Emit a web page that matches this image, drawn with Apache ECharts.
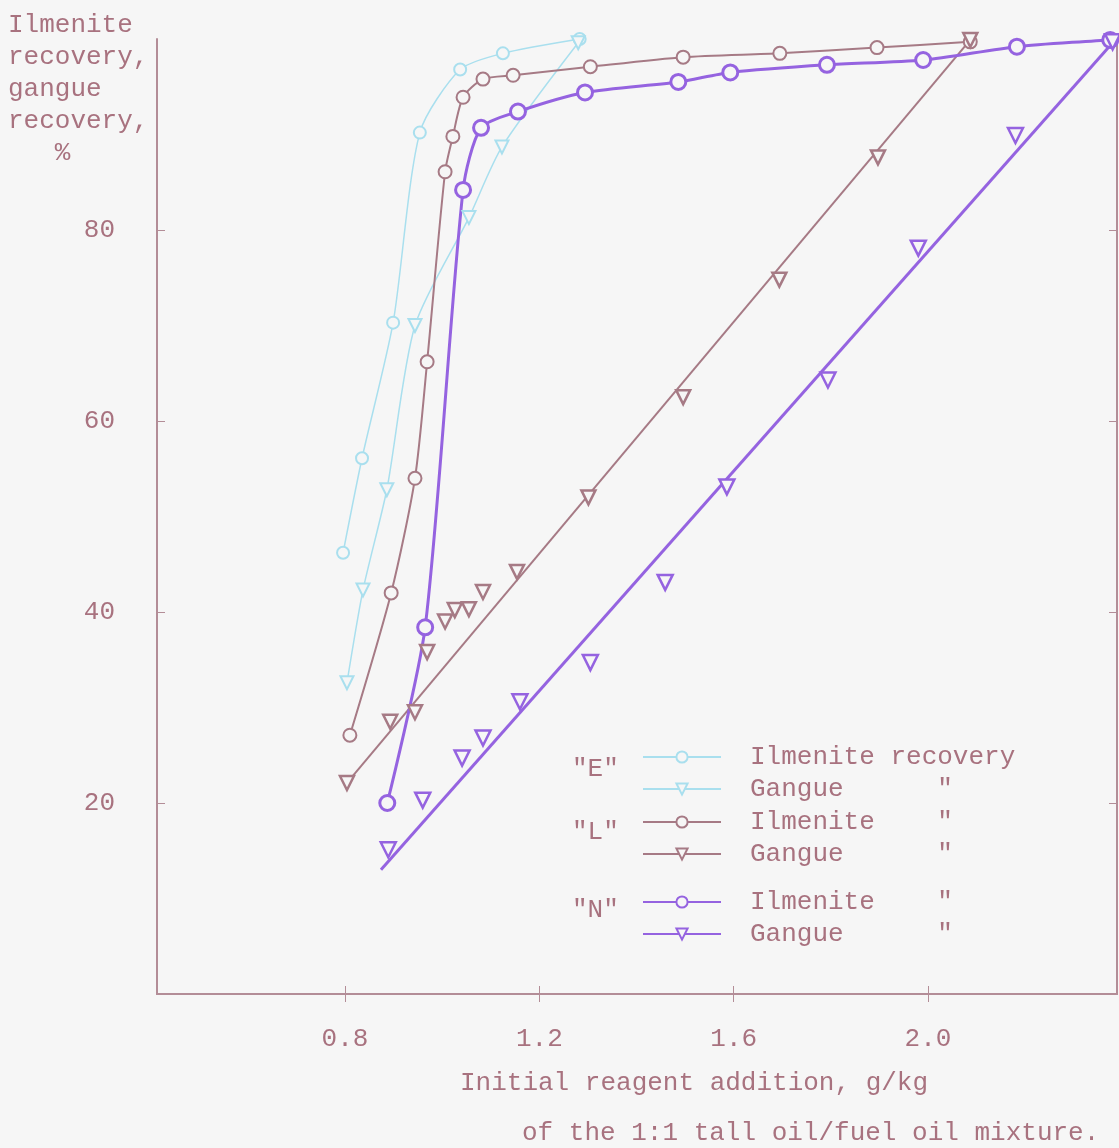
<!DOCTYPE html>
<html>
<head>
<meta charset="utf-8">
<script src="https://cdn.jsdelivr.net/npm/echarts@6/dist/echarts.min.js"></script>
<style>
html, body { margin: 0; padding: 0; background: #f6f6f6; }
#chart { width: 1119px; height: 1148px; }
</style>
</head>
<body>
<div id="chart"></div>
<script>
// tick labels
var xTicks = [0.8, 1.2, 1.6, 2.0];
var yTicks = [20, 40, 60, 80];

// "E" reagent
var eIlmenite = [[0.796, 46.2], [0.835, 56.1], [0.899, 70.3], [0.954, 90.2], [1.037, 96.8], [1.125, 98.5], [1.283, 100]];
var eGangue = [[0.804, 32.6], [0.837, 42.3], [0.886, 52.8], [0.944, 70.0], [1.055, 81.3], [1.123, 88.7], [1.28, 99.6]];

// "L" reagent
var lIlmenite = [[0.81, 27.1], [0.895, 42.0], [0.944, 54.0], [0.969, 66.2], [1.006, 86.1], [1.022, 89.8], [1.043, 93.9],
	[1.084, 95.8], [1.146, 96.2], [1.305, 97.1], [1.496, 98.1], [1.695, 98.5], [1.895, 99.1], [2.087, 99.7]];
var lGangue = [[0.804, 22.1], [0.893, 28.5], [0.944, 29.5], [0.969, 35.8], [1.006, 39.0], [1.026, 40.2], [1.055, 40.3],
	[1.084, 42.1], [1.154, 44.2], [1.301, 52.0], [1.496, 62.5], [1.694, 74.8], [1.897, 87.6], [2.087, 99.9]];
var lGangueFit = [[0.804, 22.1], [2.087, 99.9]];

// "N" reagent
var nIlmenite = [[0.887, 20.0], [0.965, 38.4], [1.043, 84.2], [1.080, 90.7], [1.156, 92.4], [1.294, 94.4], [1.486, 95.5],
	[1.593, 96.5], [1.792, 97.3], [1.99, 97.8], [2.183, 99.2], [2.375, 99.9]];
var nGangue = [[0.889, 15.1], [0.96, 20.3], [1.041, 24.7], [1.084, 26.8], [1.16, 30.6], [1.305, 34.7], [1.459, 43.1],
	[1.586, 53.1], [1.794, 64.3], [1.98, 78.1], [2.18, 89.9], [2.38, 99.7]];
var nGangueFit = [[0.874, 13.0], [2.385, 99.9]];

var legendText = {
	'E Ilmenite': 'Ilmenite recovery',
	'E Gangue': 'Gangue      "',
	'L Ilmenite': 'Ilmenite    "',
	'L Gangue': 'Gangue      "',
	'N Ilmenite': 'Ilmenite    "',
	'N Gangue': 'Gangue      "'
};

var ink = '#a8727f';
var frame = '#b38d97';
var bg = '#f6f6f6';
var cE = '#a9dfee';
var cL = '#a67a85';
var cN = '#9563e0';
var mono = '"Liberation Mono", "DejaVu Sans Mono", monospace';
var triDown = 'path://M0,0L10,0L5,9Z';

var chart = echarts.init(document.getElementById('chart'));

function curve(name, data, color, width, symbol, size, border) {
	return {
		name: name,
		type: 'line',
		data: data,
		smooth: 0.25,
		symbol: symbol,
		symbolSize: size,
		lineStyle: { color: color, width: width },
		itemStyle: { color: bg, borderColor: color, borderWidth: border },
		z: 3
	};
}

function fitLine(name, data, color, width) {
	return {
		name: name,
		type: 'line',
		data: data,
		showSymbol: false,
		symbol: triDown,
		lineStyle: { color: color, width: width },
		itemStyle: { color: bg, borderColor: color, borderWidth: 2 },
		z: 2
	};
}

function points(name, data, color, size) {
	return {
		name: name,
		type: 'scatter',
		data: data,
		symbol: triDown,
		symbolSize: size,
		itemStyle: { color: bg, borderColor: color, borderWidth: 2.5, opacity: 1 },
		z: 4
	};
}

function legendBlock(names, top) {
	return {
		data: names,
		orient: 'vertical',
		left: 637,
		top: top,
		itemWidth: 78,
		itemHeight: 14,
		itemGap: 2,
		selectedMode: false,
		formatter: function (n) { return legendText[n]; },
		textStyle: { fontFamily: mono, fontSize: 26, color: ink, lineHeight: 30, padding: [0, 0, 0, 24] }
	};
}

var option = {
	backgroundColor: bg,
	animation: false,
	grid: { left: 157, top: 39, width: 960, height: 955 },
	xAxis: [
		{
			type: 'value', min: 0.413, max: 2.389,
			axisLine: { show: true, lineStyle: { color: frame, width: 2 } },
			axisTick: { show: true, inside: true, length: 8, customValues: xTicks, lineStyle: { color: frame } },
			axisLabel: { customValues: xTicks, margin: 32, fontFamily: mono, fontSize: 26, color: ink,
				formatter: function (v) { return v.toFixed(1); } },
			splitLine: { show: false }
		},
		{
			type: 'value', min: 0.413, max: 2.389, position: 'top',
			axisLine: { show: true, lineStyle: { color: frame, width: 2 } },
			axisTick: { show: true, inside: true, length: 8, customValues: xTicks, lineStyle: { color: frame } },
			axisLabel: { show: false },
			splitLine: { show: false }
		}
	],
	yAxis: [
		{
			type: 'value', min: 0, max: 100,
			axisLine: { show: true, lineStyle: { color: frame, width: 2 } },
			axisTick: { show: true, inside: true, length: 8, customValues: yTicks, lineStyle: { color: frame } },
			axisLabel: { customValues: yTicks, margin: 42, fontFamily: mono, fontSize: 26, color: ink },
			splitLine: { show: false }
		},
		{
			type: 'value', min: 0, max: 100, position: 'right',
			axisLine: { show: true, lineStyle: { color: frame, width: 2 } },
			axisTick: { show: true, inside: true, length: 8, customValues: yTicks, lineStyle: { color: frame } },
			axisLabel: { show: false },
			splitLine: { show: false }
		}
	],
	legend: [
		legendBlock(['E Ilmenite', 'E Gangue'], 737),
		legendBlock(['L Ilmenite', 'L Gangue'], 802),
		legendBlock(['N Ilmenite', 'N Gangue'], 882)
	],
	graphic: [
		{ type: 'text', left: 8, top: 9, style: { text: 'Ilmenite\nrecovery,\ngangue\nrecovery,\n   %', font: '26px ' + mono, fill: ink, lineHeight: 32 } },
		{ type: 'text', left: 460, top: 1070, style: { text: 'Initial reagent addition, g/kg', font: '26px ' + mono, fill: ink } },
		{ type: 'text', left: 522, top: 1120, style: { text: 'of the 1:1 tall oil/fuel oil mixture.', font: '26px ' + mono, fill: ink } },
		{ type: 'text', left: 572, top: 756, style: { text: '"E"', font: '26px ' + mono, fill: ink } },
		{ type: 'text', left: 572, top: 819, style: { text: '"L"', font: '26px ' + mono, fill: ink } },
		{ type: 'text', left: 572, top: 897, style: { text: '"N"', font: '26px ' + mono, fill: ink } }
	],
	series: [
		curve('E Ilmenite', eIlmenite, cE, 1.5, 'circle', 12, 2),
		curve('E Gangue', eGangue, cE, 1.5, triDown, 13, 2),
		curve('L Ilmenite', lIlmenite, cL, 2, 'circle', 13, 2),
		fitLine('L Gangue', lGangueFit, cL, 2),
		points('L Gangue', lGangue, cL, 14),
		curve('N Ilmenite', nIlmenite, cN, 3, 'circle', 15, 3),
		fitLine('N Gangue', nGangueFit, cN, 3),
		points('N Gangue', nGangue, cN, 15)
	]
};

chart.setOption(option);
</script>
</body>
</html>
